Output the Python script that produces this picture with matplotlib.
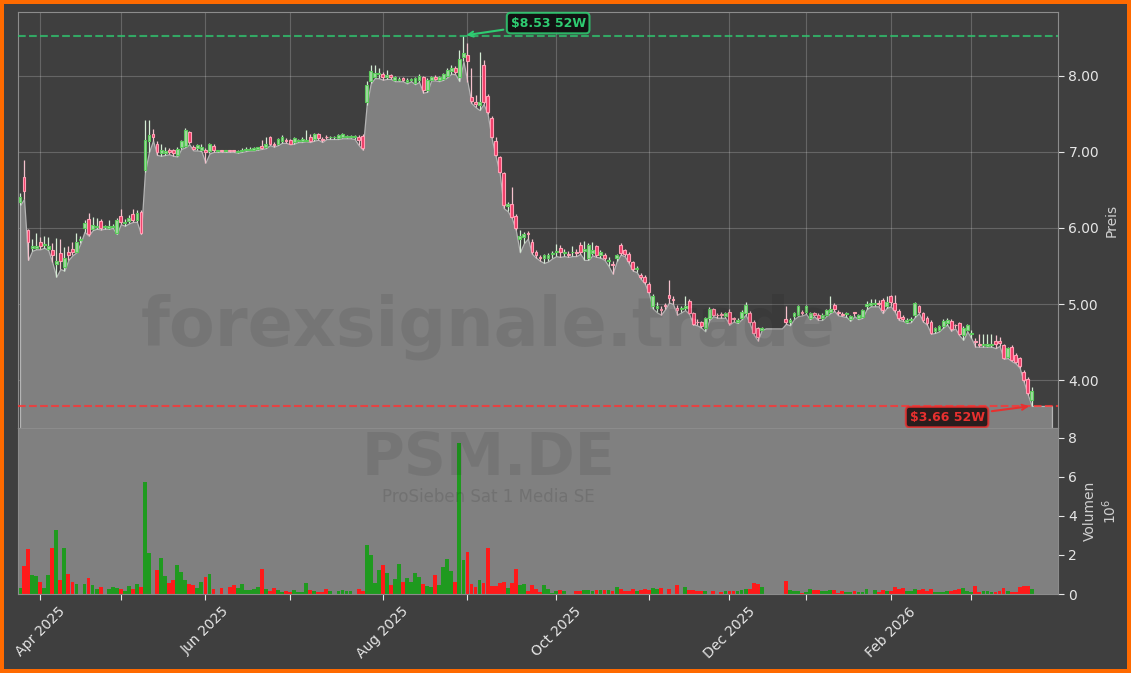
import numpy as np
import pandas as pd
import matplotlib
matplotlib.use('Agg')
import matplotlib.pyplot as plt
from matplotlib.ticker import FixedLocator, FuncFormatter

# trading days (Xetra), Mar 25 2025 .. Mar 23 2026
holidays = ['2025-04-18', '2025-04-21', '2025-05-01', '2025-12-24',
            '2025-12-25', '2025-12-26', '2025-12-31', '2026-01-01']
dates = pd.bdate_range('2025-03-25', '2026-03-23')
dates = dates[~dates.isin(pd.to_datetime(holidays))]

opens = [
    6.34, 6.67, 5.97, 5.74, 5.74, 5.82, 5.77, 5.73, 5.71, 5.52,
    5.67, 5.49, 5.68, 5.73, 5.69, 5.84, 6.00, 6.12, 5.99, 6.01,
    6.09, 6.01, 6.00, 6.01, 5.94, 6.16, 6.06, 6.09, 6.18, 6.10,
    6.21, 6.76, 7.14, 7.24, 7.10, 6.98, 6.99, 7.03, 7.02, 6.96,
    7.07, 7.08, 7.26, 7.06, 7.05, 7.03, 7.03, 7.01, 7.08, 7.01,
    7.02, 7.01, 7.02, 7.02, 7.00, 7.01, 7.02, 7.03, 7.03, 7.04,
    7.08, 7.06, 7.19, 7.11, 7.11, 7.14, 7.16, 7.16, 7.13, 7.15,
    7.14, 7.15, 7.20, 7.17, 7.24, 7.17, 7.20, 7.19, 7.19, 7.18,
    7.19, 7.20, 7.20, 7.20, 7.20, 7.21, 7.66, 7.93, 7.99, 8.02,
    8.02, 7.99, 8.01, 7.95, 7.95, 7.97, 7.92, 7.95, 7.91, 7.94,
    7.98, 7.81, 7.95, 7.99, 7.95, 7.96, 8.00, 8.07, 8.11, 7.98,
    8.25, 8.28, 7.72, 7.66, 7.62, 8.14, 7.73, 7.45, 7.14, 6.93,
    6.72, 6.29, 6.32, 6.16, 5.86, 5.88, 5.93, 5.82, 5.68, 5.62,
    5.60, 5.61, 5.66, 5.68, 5.74, 5.67, 5.66, 5.68, 5.69, 5.78,
    5.70, 5.60, 5.67, 5.76, 5.645, 5.645, 5.57, 5.53, 5.60, 5.78,
    5.71, 5.66, 5.55, 5.46, 5.38, 5.36, 5.27, 4.97, 4.95, 4.94,
    4.99, 5.12, 5.07, 4.95, 4.93, 4.95, 5.04, 4.88, 4.77, 4.76,
    4.69, 4.81, 4.93, 4.86, 4.87, 4.84, 4.90, 4.82, 4.77, 4.82,
    4.88, 4.88, 4.77, 4.68, 4.66, 4.68, 4.68, 4.68, 4.68, 4.68,
    4.80, 4.77, 4.84, 4.86, 4.89, 4.90, 4.82, 4.88, 4.86, 4.81,
    4.86, 4.90, 4.99, 4.89, 4.87, 4.87, 4.80, 4.89, 4.81, 4.83,
    4.97, 4.99, 5.00, 5.01, 5.05, 4.98, 5.10, 5.02, 4.91, 4.83,
    4.77, 4.79, 4.85, 4.97, 4.88, 4.82, 4.77, 4.64, 4.66, 4.71,
    4.75, 4.78, 4.73, 4.75, 4.59, 4.66, 4.60, 4.52, 4.48, 4.46,
    4.45, 4.46, 4.52, 4.51, 4.46, 4.31, 4.44, 4.33, 4.29, 4.11,
    4.02, 3.74]

highs = [
    6.46, 6.90, 5.99, 5.85, 5.93, 5.88, 5.90, 5.88, 5.80, 5.87,
    5.85, 5.75, 5.76, 5.82, 5.93, 5.90, 6.10, 6.20, 6.15, 6.13,
    6.12, 6.04, 6.10, 6.05, 6.13, 6.25, 6.12, 6.17, 6.25, 6.24,
    6.23, 7.42, 7.42, 7.30, 7.14, 7.10, 7.06, 7.05, 7.04, 7.06,
    7.16, 7.31, 7.28, 7.09, 7.11, 7.10, 7.05, 7.12, 7.10, 7.03,
    7.03, 7.02, 7.03, 7.03, 7.03, 7.05, 7.06, 7.06, 7.07, 7.07,
    7.16, 7.19, 7.21, 7.13, 7.18, 7.22, 7.18, 7.17, 7.20, 7.17,
    7.19, 7.29, 7.24, 7.25, 7.25, 7.19, 7.22, 7.21, 7.21, 7.23,
    7.25, 7.22, 7.22, 7.22, 7.22, 7.23, 7.93, 8.14, 8.14, 8.10,
    8.05, 8.08, 8.03, 8.00, 7.98, 7.99, 7.97, 7.97, 7.99, 8.02,
    8.00, 7.97, 8.00, 8.01, 8.00, 8.04, 8.10, 8.14, 8.13, 8.34,
    8.53, 8.43, 8.10, 7.75, 8.32, 8.21, 7.76, 7.47, 7.20, 6.95,
    6.74, 6.34, 6.54, 6.18, 5.97, 5.95, 5.96, 5.85, 5.71, 5.65,
    5.66, 5.67, 5.70, 5.79, 5.78, 5.72, 5.70, 5.76, 5.72, 5.82,
    5.83, 5.80, 5.81, 5.78, 5.71, 5.67, 5.62, 5.56, 5.66, 5.80,
    5.73, 5.68, 5.57, 5.50, 5.41, 5.38, 5.29, 5.13, 5.03, 4.98,
    5.01, 5.32, 5.10, 4.99, 4.97, 5.10, 5.06, 4.90, 4.80, 4.78,
    4.83, 4.96, 4.95, 4.88, 4.89, 4.90, 4.93, 4.83, 4.82, 4.92,
    5.03, 4.91, 4.79, 4.70, 4.70, 4.68, 4.68, 4.68, 4.68, 4.68,
    4.97, 4.82, 4.90, 4.99, 4.92, 4.99, 4.90, 4.90, 4.88, 4.88,
    4.94, 5.10, 5.01, 4.92, 4.89, 4.90, 4.86, 4.90, 4.87, 4.94,
    5.04, 5.07, 5.07, 5.05, 5.08, 5.10, 5.12, 5.12, 4.93, 4.85,
    4.81, 4.83, 5.03, 4.99, 4.90, 4.84, 4.79, 4.70, 4.73, 4.80,
    4.81, 4.80, 4.74, 4.77, 4.71, 4.74, 4.66, 4.55, 4.61, 4.60,
    4.61, 4.60, 4.59, 4.57, 4.48, 4.44, 4.46, 4.35, 4.31, 4.13,
    4.04, 3.91]

lows = [
    6.30, 6.38, 5.58, 5.70, 5.72, 5.72, 5.74, 5.71, 5.55, 5.36,
    5.46, 5.44, 5.58, 5.64, 5.68, 5.80, 5.95, 5.90, 5.97, 5.99,
    5.98, 5.99, 5.99, 6.00, 5.92, 6.05, 6.03, 6.06, 6.08, 6.08,
    5.92, 6.74, 7.00, 7.15, 6.96, 6.95, 6.96, 6.97, 6.95, 6.94,
    7.04, 7.06, 7.10, 7.02, 7.02, 7.01, 6.86, 6.98, 7.00, 7.00,
    7.00, 7.00, 7.00, 7.00, 6.99, 7.00, 7.01, 7.02, 7.02, 7.03,
    7.04, 7.05, 7.09, 7.07, 7.09, 7.12, 7.12, 7.10, 7.11, 7.13,
    7.13, 7.14, 7.13, 7.15, 7.16, 7.13, 7.17, 7.17, 7.17, 7.17,
    7.18, 7.18, 7.18, 7.17, 7.09, 7.03, 7.62, 7.90, 7.97, 7.97,
    7.95, 7.96, 7.96, 7.93, 7.93, 7.93, 7.90, 7.93, 7.89, 7.92,
    7.78, 7.79, 7.94, 7.94, 7.93, 7.95, 7.98, 8.03, 8.02, 7.93,
    8.19, 7.92, 7.64, 7.59, 7.55, 7.63, 7.50, 7.18, 6.94, 6.72,
    6.26, 6.22, 6.13, 5.97, 5.68, 5.80, 5.86, 5.66, 5.61, 5.57,
    5.54, 5.56, 5.60, 5.63, 5.62, 5.63, 5.62, 5.63, 5.63, 5.66,
    5.58, 5.58, 5.64, 5.62, 5.61, 5.58, 5.50, 5.40, 5.56, 5.65,
    5.63, 5.54, 5.44, 5.42, 5.33, 5.27, 5.14, 4.94, 4.89, 4.86,
    4.93, 5.02, 5.00, 4.86, 4.89, 4.92, 4.87, 4.73, 4.72, 4.69,
    4.64, 4.79, 4.84, 4.82, 4.82, 4.82, 4.73, 4.77, 4.75, 4.80,
    4.86, 4.75, 4.60, 4.52, 4.66, 4.68, 4.68, 4.68, 4.68, 4.68,
    4.74, 4.72, 4.80, 4.84, 4.85, 4.87, 4.80, 4.84, 4.79, 4.79,
    4.84, 4.88, 4.91, 4.85, 4.84, 4.83, 4.78, 4.84, 4.80, 4.82,
    4.93, 4.97, 4.97, 4.97, 4.88, 4.95, 4.97, 4.90, 4.79, 4.78,
    4.75, 4.76, 4.83, 4.88, 4.77, 4.73, 4.61, 4.62, 4.64, 4.69,
    4.73, 4.65, 4.68, 4.59, 4.53, 4.64, 4.55, 4.44, 4.44, 4.44,
    4.44, 4.44, 4.42, 4.45, 4.28, 4.29, 4.25, 4.22, 4.16, 3.98,
    3.81, 3.66]

closes = [
    6.41, 6.49, 5.82, 5.76, 5.76, 5.76, 5.79, 5.76, 5.64, 5.56,
    5.56, 5.60, 5.64, 5.69, 5.82, 5.86, 6.06, 5.92, 6.04, 6.02,
    6.00, 6.01, 6.03, 6.03, 6.11, 6.08, 6.08, 6.13, 6.11, 6.20,
    5.93, 7.16, 7.22, 7.20, 7.00, 7.02, 7.01, 7.00, 6.99, 7.04,
    7.14, 7.29, 7.13, 7.04, 7.09, 7.07, 7.00, 7.10, 7.02, 7.01,
    7.01, 7.01, 7.01, 7.01, 7.01, 7.03, 7.04, 7.04, 7.05, 7.06,
    7.05, 7.10, 7.11, 7.09, 7.17, 7.20, 7.14, 7.11, 7.18, 7.16,
    7.17, 7.16, 7.14, 7.23, 7.18, 7.16, 7.19, 7.20, 7.19, 7.22,
    7.23, 7.21, 7.21, 7.20, 7.16, 7.05, 7.88, 8.06, 8.04, 8.04,
    7.98, 8.01, 7.99, 7.99, 7.96, 7.94, 7.95, 7.96, 7.97, 8.00,
    7.82, 7.95, 7.99, 7.96, 7.99, 8.03, 8.08, 8.10, 8.05, 8.22,
    8.30, 8.20, 7.67, 7.63, 7.66, 7.66, 7.53, 7.20, 6.96, 6.74,
    6.30, 6.31, 6.15, 6.00, 5.89, 5.92, 5.92, 5.68, 5.64, 5.60,
    5.64, 5.64, 5.67, 5.70, 5.69, 5.68, 5.65, 5.69, 5.67, 5.69,
    5.72, 5.78, 5.71, 5.65, 5.69, 5.60, 5.58, 5.51, 5.64, 5.67,
    5.66, 5.56, 5.46, 5.47, 5.35, 5.29, 5.16, 5.11, 4.97, 4.92,
    4.97, 5.08, 5.05, 4.92, 4.95, 4.97, 4.88, 4.74, 4.76, 4.71,
    4.81, 4.94, 4.86, 4.85, 4.85, 4.88, 4.75, 4.80, 4.79, 4.90,
    4.99, 4.77, 4.62, 4.56, 4.68, 4.68, 4.68, 4.68, 4.68, 4.68,
    4.77, 4.79, 4.88, 4.97, 4.88, 4.97, 4.88, 4.86, 4.81, 4.86,
    4.92, 4.94, 4.93, 4.88, 4.86, 4.88, 4.84, 4.88, 4.85, 4.92,
    5.00, 5.01, 5.02, 5.00, 4.92, 5.03, 5.03, 4.92, 4.81, 4.80,
    4.79, 4.80, 5.01, 4.90, 4.79, 4.75, 4.62, 4.68, 4.71, 4.78,
    4.79, 4.67, 4.72, 4.61, 4.69, 4.72, 4.62, 4.50, 4.46, 4.47,
    4.47, 4.48, 4.47, 4.49, 4.29, 4.42, 4.26, 4.24, 4.18, 4.00,
    3.83, 3.85]

# volume in millions of shares
volumes = [
    0.29, 1.41, 2.32, 0.97, 0.92, 0.60, 0.29, 0.97, 2.37, 3.28,
    0.72, 2.37, 1.03, 0.60, 0.51, 0.00, 0.51, 0.82, 0.46, 0.26,
    0.36, 0.00, 0.26, 0.36, 0.29, 0.26, 0.17, 0.41, 0.26, 0.51,
    0.36, 5.76, 2.08, 0.00, 1.24, 1.84, 0.92, 0.58, 0.72, 1.49,
    1.13, 0.72, 0.51, 0.48, 0.31, 0.62, 0.89, 1.03, 0.26, 0.00,
    0.31, 0.00, 0.38, 0.46, 0.31, 0.51, 0.21, 0.21, 0.26, 0.36,
    1.28, 0.26, 0.17, 0.31, 0.21, 0.12, 0.15, 0.12, 0.21, 0.12,
    0.10, 0.56, 0.21, 0.15, 0.10, 0.10, 0.26, 0.15, 0.00, 0.15,
    0.21, 0.15, 0.15, 0.00, 0.26, 0.15, 2.51, 1.99, 0.56, 1.24,
    1.49, 1.08, 0.46, 0.77, 1.54, 0.63, 0.84, 0.60, 1.09, 0.89,
    0.50, 0.41, 0.38, 0.97, 0.46, 1.40, 1.78, 1.18, 0.62, 7.73,
    1.74, 2.15, 0.51, 0.38, 0.72, 0.58, 2.33, 0.41, 0.41, 0.58,
    0.63, 0.31, 0.58, 1.26, 0.44, 0.51, 0.14, 0.46, 0.24, 0.12,
    0.46, 0.24, 0.05, 0.14, 0.19, 0.14, 0.00, 0.00, 0.15, 0.15,
    0.19, 0.19, 0.14, 0.21, 0.19, 0.21, 0.21, 0.14, 0.36, 0.26,
    0.14, 0.14, 0.26, 0.17, 0.21, 0.24, 0.21, 0.31, 0.24, 0.31,
    0.00, 0.26, 0.00, 0.46, 0.00, 0.36, 0.21, 0.21, 0.15, 0.15,
    0.14, 0.00, 0.15, 0.00, 0.10, 0.14, 0.15, 0.15, 0.15, 0.21,
    0.24, 0.24, 0.58, 0.51, 0.38, 0.00, 0.00, 0.00, 0.00, 0.00,
    0.67, 0.21, 0.14, 0.14, 0.05, 0.10, 0.24, 0.21, 0.21, 0.15,
    0.15, 0.21, 0.21, 0.03, 0.14, 0.10, 0.10, 0.14, 0.10, 0.10,
    0.24, 0.02, 0.21, 0.10, 0.21, 0.14, 0.15, 0.36, 0.24, 0.31,
    0.14, 0.14, 0.24, 0.21, 0.24, 0.14, 0.24, 0.10, 0.10, 0.10,
    0.14, 0.14, 0.19, 0.24, 0.31, 0.14, 0.10, 0.41, 0.10, 0.15,
    0.15, 0.10, 0.10, 0.14, 0.31, 0.14, 0.10, 0.10, 0.36, 0.41,
    0.41, 0.26]

TICKER = 'PSM.DE'
COMPANY = 'ProSieben Sat 1 Media SE'
WATERMARK = 'forexsignale.trade'

BG = '#3f3f3f'
FILL = '#808080'
TXT = '#e6e6e6'
PAD = 5

O = np.array(opens)
H = np.array(highs)
L = np.array(lows)
C = np.array(closes)
V = np.array(volumes)
N = len(C)
x = np.arange(N)
up = C >= O

fig = plt.figure(figsize=(11.31, 6.73), dpi=100, facecolor=BG)
fig.patch.set_edgecolor('#ff6a00')
fig.patch.set_linewidth(4.5)

W, Hh = 1131, 673
ax = fig.add_axes([18 / W, 1 - 428 / Hh, 1040 / W, 416 / Hh])
axv = fig.add_axes([18 / W, 1 - 594 / Hh, 1040 / W, 166 / Hh], sharex=ax)

# price panel
ax.set_facecolor(BG)
xf = np.arange(N + PAD)
lf = np.concatenate([L, np.full(PAD, L[-1])])
ax.fill_between(xf, lf, 0, facecolor=FILL, edgecolor='#b4b4b4',
                linewidth=0.9, zorder=1)

draw = H > L
wick_c = np.where(up, '#d4ecd4', '#f5c2cd')
face_c = np.where(up, '#a3d8a3', '#f03c68')
edge_c = np.where(up, '#5acb5a', '#ff9fb4')
ax.vlines(x[draw], L[draw], H[draw], colors=wick_c[draw], linewidth=0.9, zorder=2)
body = np.maximum(np.abs(C - O), 0.01)
ax.bar(x[draw], body[draw], bottom=np.minimum(O, C)[draw], width=0.7,
       color=face_c[draw], edgecolor=edge_c[draw], linewidth=0.8, zorder=3)

ihi = int(np.argmax(H))
ilo = int(np.argmin(L))
hi, lo = H[ihi], L[ilo]
ax.axhline(hi, color='#2ecc71', ls='--', lw=1.5, alpha=0.75, zorder=4)
ax.axhline(lo, color='#ff3333', ls='--', lw=1.5, alpha=0.8, zorder=4)

ax.annotate('\\$%.2f 52W' % hi, xy=(ihi, hi), xytext=(61, 9),
            textcoords='offset points', ha='center', va='center',
            color='#2ecc71', fontsize=9, fontweight='bold',
            bbox=dict(boxstyle='round,pad=0.3', fc='#0a0a0a', ec='#2ecc71',
                      lw=1.5, alpha=0.85),
            arrowprops=dict(arrowstyle='->', color='#2ecc71', lw=1.5),
            zorder=6)
ax.annotate('\\$%.2f 52W' % lo, xy=(ilo, lo), xytext=(-61, -8),
            textcoords='offset points', ha='center', va='center',
            color='#e8302f', fontsize=9, fontweight='bold',
            bbox=dict(boxstyle='round,pad=0.3', fc='#1a0c0c', ec='#e8302f',
                      lw=1.5, alpha=0.85),
            arrowprops=dict(arrowstyle='->', color='#e8302f', lw=1.5),
            zorder=6)

ax.set_ylim(3.37, 8.84)
ax.yaxis.tick_right()
ax.yaxis.set_label_position('right')
ax.yaxis.set_major_locator(FixedLocator([4, 5, 6, 7, 8]))
ax.yaxis.set_major_formatter(FuncFormatter(lambda v, p: '%.2f' % v))
ax.set_ylabel('Preis', color='#d0d0d0', fontsize=10)
ax.tick_params(axis='y', colors=TXT, labelsize=10, length=4)
ax.tick_params(axis='x', bottom=False, labelbottom=False)
ax.grid(True, color='white', alpha=0.2, lw=0.8)
ax.set_axisbelow(True)
for s in ax.spines.values():
    s.set_color('#8c8c8c')

# volume panel
axv.set_facecolor(FILL)
vol_c = np.where(up, '#1f9a1f', '#ff1a1a')
axv.bar(x, V, width=0.95, color=vol_c, zorder=2)
axv.set_ylim(0, 8.5)
axv.yaxis.tick_right()
axv.yaxis.set_label_position('right')
axv.yaxis.set_major_locator(FixedLocator([0, 2, 4, 6, 8]))
axv.set_ylabel('Volumen\n$10^6$', color='#d0d0d0', fontsize=10)
axv.tick_params(axis='y', colors=TXT, labelsize=10, length=4)
for s in axv.spines.values():
    s.set_color('#8c8c8c')

# month ticks at first trading day of each month, labels every second month
starts = [i for i in range(1, N) if dates[i].month != dates[i - 1].month]
axv.xaxis.set_major_locator(FixedLocator(starts))
axv.xaxis.set_major_formatter(FuncFormatter(
    lambda v, p: dates[int(round(v))].strftime('%b %Y')
    if 0 <= int(round(v)) < N and dates[int(round(v))].month % 2 == 0 else ''))
axv.tick_params(axis='x', colors=TXT, labelsize=10, length=4)
plt.setp(axv.get_xticklabels(), rotation=45)
axv.set_xlim(-0.5, N + PAD + 0.5)

# watermarks
fig.text(0.4315, 0.514, WATERMARK, fontsize=48, fontweight='bold',
         color='black', alpha=0.08, ha='center', va='center', zorder=10)
fig.text(0.4315, 0.3185, TICKER, fontsize=42, fontweight='bold',
         color='black', alpha=0.08, ha='center', va='center', zorder=10)
fig.text(0.4315, 0.262, COMPANY, fontsize=12,
         color='black', alpha=0.11, ha='center', va='center', zorder=10)

fig.savefig('out.png', dpi=100, facecolor=fig.get_facecolor(),
            edgecolor=fig.get_edgecolor())
